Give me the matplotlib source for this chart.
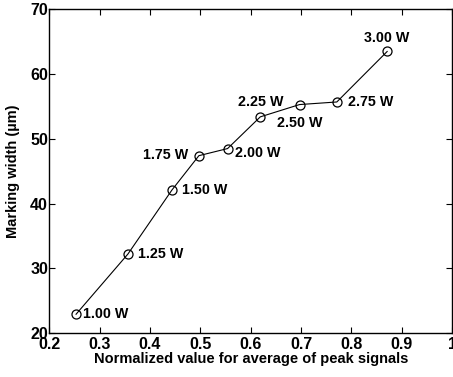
import matplotlib
matplotlib.use("Agg")
import matplotlib.pyplot as plt

plt.rcParams['font.family'] = ['Liberation Sans', 'DejaVu Sans']
plt.rcParams['font.weight'] = 'bold'

x_vals = [0.253, 0.356, 0.4435, 0.497, 0.554, 0.619, 0.697, 0.771, 0.871]
y_vals = [22.9, 32.2, 42.1, 47.4, 48.5, 53.4, 55.3, 55.7, 63.5]
labels = ["1.00 W", "1.25 W", "1.50 W", "1.75 W", "2.00 W", "2.25 W", "2.50 W", "2.75 W", "3.00 W"]
# label offsets in points (dx, dy) and alignment
offsets = [(5, 0, 'left', 'center'), (7, 0, 'left', 'center'), (7, 0, 'left', 'center'),
           (-8, 0.5, 'right', 'center'), (5, -3, 'left', 'center'), (0, 11, 'center', 'center'),
           (0, -13, 'center', 'center'), (8, 0, 'left', 'center'), (0, 10, 'center', 'center')]

fig = plt.figure(figsize=(4.53, 3.77), dpi=100)
ax = fig.add_axes([0.109, 0.1167, 0.889, 0.8583])
ax.plot(x_vals, y_vals, '-', color='black', lw=0.8, marker='o', mfc='none', mec='black', ms=6.5, mew=0.9)
for xv, yv, lab, (dx, dy, ha, va) in zip(x_vals, y_vals, labels, offsets):
    ax.annotate(lab, (xv, yv), xytext=(dx, dy), textcoords='offset points', ha=ha, va=va,
                fontsize=10.3, fontweight='bold')
ax.set_xlim(0.2, 1.0)
ax.set_ylim(20, 70)
ax.set_xticks([0.2, 0.3, 0.4, 0.5, 0.6, 0.7, 0.8, 0.9, 1.0])
ax.set_xticklabels(['0.2', '0.3', '0.4', '0.5', '0.6', '0.7', '0.8', '0.9', '1'])
ax.set_yticks([20, 30, 40, 50, 60, 70])
ax.tick_params(direction='in', top=True, right=True, labelsize=11.5, length=4, width=0.8, pad=1)
ax.tick_params(axis='x', pad=3)
for lab in ax.get_xticklabels() + ax.get_yticklabels():
    lab.set_fontweight('bold')
for s in ax.spines.values():
    s.set_linewidth(1.0)
ax.set_xlabel('Normalized value for average of peak signals', fontsize=10.5, fontweight='bold', labelpad=0)
ax.set_ylabel('Marking width (µm)', fontsize=10.5, fontweight='bold', labelpad=7)
fig.savefig('out.png', dpi=100)
